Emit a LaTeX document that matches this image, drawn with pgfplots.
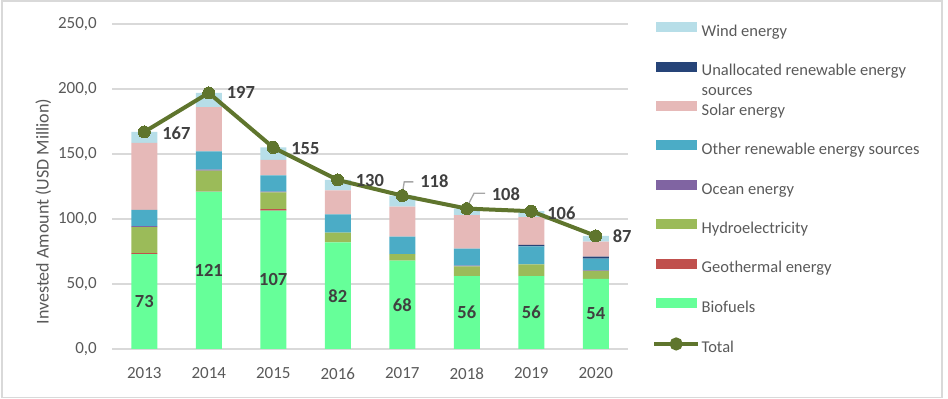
\documentclass[border=0pt]{standalone}
\usepackage{fontspec}
\setmainfont{Carlito}
\usepackage{pgfplots}
\pgfplotsset{compat=1.18}
\usepackage{pgfplotstable}

\definecolor{cwind}{HTML}{B7DEE8}
\definecolor{cunal}{HTML}{264478}
\definecolor{csolar}{HTML}{E6B9B8}
\definecolor{cother}{HTML}{4BACC6}
\definecolor{cocean}{HTML}{8064A2}
\definecolor{chydro}{HTML}{9BBB59}
\definecolor{cgeo}{HTML}{C0504D}
\definecolor{cbio}{HTML}{66FF99}
\definecolor{ctotal}{RGB}{95,117,45}
\definecolor{ctext}{HTML}{595959}
\definecolor{clabel}{HTML}{404040}
\definecolor{cgrid}{HTML}{D9D9D9}
\definecolor{cleader}{HTML}{A6A6A6}

\pgfplotstableread{
x bio geo hydro ocean other unal solar wind total blab dx dy
0 73 0.8 20 0.7 12.5 0 51.5 8.5 167 73 18 -1
1 121 0.3 16 0.7 14 0 34 11 197 121 18 0
2 106.5 1 13 0.5 12.5 0 12 9.5 155 107 18 -1.5
3 82 0 7.5 0 14 0 18.5 8 130 82 18 -0.7
4 68 0 5 0 13.5 0 23 8.5 118 68 18 14.3
5 56 0 7.5 0.7 13 0 25.8 5 108 56 25 14.3
6 56 0 9 0 14 1 21.5 4.5 106 56 16 -1.7
7 54 0 6 0.5 9 1.5 11.5 4.5 87 54 17 -0.7
}\data

\pgfplotsset{
  mypatch/.style={legend image code/.code={\fill[#1] (0bp,1bp) rectangle (40bp,10bp);}},
}

\begin{document}
\begin{tikzpicture}
\useasboundingbox (0,0) rectangle (948bp,399bp);
\draw[cgrid, line width=1.2bp] (2bp,1.3bp) rectangle (942bp,398bp);

\begin{axis}[
  at={(112bp,50bp)}, anchor=south west,
  scale only axis, width=516bp, height=325bp,
  xmin=-0.5, xmax=7.5, ymin=0, ymax=250,
  ybar stacked, bar width=26bp,
  xtick={0,...,7}, xticklabels={2013,2014,2015,2016,2017,2018,2019,2020},
  ytick={0,50,...,250},
  major tick length=0pt,
  axis x line*=bottom, axis y line*=left,
  x axis line style={cgrid, line width=1.3bp, -},
  y axis line style={draw=none},
  ymajorgrids, grid style={cgrid, line width=1.3bp},
  /pgf/number format/assume math mode=true,
  tick label style={font=\fontsize{17bp}{20bp}\selectfont, text=ctext, inner sep=0pt},
  yticklabel style={xshift=-15bp, /pgf/number format/.cd, fixed, fixed zerofill, precision=1, use comma},
  xticklabel style={yshift=-18.5bp},
  ylabel={Invested Amount (USD Million)},
  ylabel style={at={(axis description cs:-0.133,0.423)}, anchor=center, font=\fontsize{18bp}{21bp}\selectfont, text=ctext},
]
\addplot[fill=cbio, draw=none] table[x=x,y=bio]{\data};
\addplot[fill=cgeo, draw=none] table[x=x,y=geo]{\data};
\addplot[fill=chydro, draw=none] table[x=x,y=hydro]{\data};
\addplot[fill=cocean, draw=none] table[x=x,y=ocean]{\data};
\addplot[fill=cother, draw=none] table[x=x,y=other]{\data};
\addplot[fill=cunal, draw=none] table[x=x,y=unal]{\data};
\addplot[fill=csolar, draw=none] table[x=x,y=solar]{\data};
\addplot[fill=cwind, draw=none] table[x=x,y=wind]{\data};
\end{axis}

\begin{axis}[
  at={(112bp,50bp)}, anchor=south west,
  scale only axis, width=516bp, height=325bp,
  xmin=-0.5, xmax=7.5, ymin=0, ymax=250,
  hide axis, clip=false,
  legend cell align=left,
  legend style={at={(axis description cs:1.0465,1.006)}, anchor=north west,
    draw=none, fill=none, inner sep=0pt,
    font=\fontsize{16.5bp}{20bp}\selectfont, text=ctext,
    row sep=22.2bp, column sep=1.5bp,
    nodes={inner sep=0pt, text height=11bp, text depth=3bp}},
]
\addlegendimage{mypatch=cwind}
\addlegendentry{Wind energy}
\addlegendimage{mypatch=cunal}
\addlegendentry{\smash{\begin{tabular}[t]{@{}l@{}}Unallocated renewable energy\\sources\end{tabular}}}
\addlegendimage{mypatch=csolar}
\addlegendentry{Solar energy}
\addlegendimage{mypatch=cother}
\addlegendentry{Other renewable energy sources}
\addlegendimage{mypatch=cocean}
\addlegendentry{Ocean energy}
\addlegendimage{mypatch=chydro}
\addlegendentry{Hydroelectricity}
\addlegendimage{mypatch=cgeo}
\addlegendentry{Geothermal energy}
\addlegendimage{mypatch=cbio}
\addlegendentry{Biofuels}

\draw[cleader, line width=1.3bp] (axis cs:4,118) ++(0.7bp,6bp) -- ++(1.3bp,7.7bp) -- ++(9bp,0pt);
\draw[cleader, line width=1.3bp] (axis cs:5,108) ++(1.6bp,4.3bp) -- ++(5.7bp,11bp) -- ++(11bp,0pt);

\addplot[draw=none, forget plot, point meta=explicit symbolic, nodes near coords,
  nodes near coords style={anchor=center, inner sep=0pt, font=\bfseries\fontsize{18.5bp}{22bp}\selectfont, text=clabel}]
  table[x=x, y expr=\thisrow{bio}/2, meta=blab]{\data};

\addplot[ctotal, line width=4bp, mark=*, mark size=6bp,
  mark options={solid, fill=ctotal, draw=ctotal, line width=0pt},
  legend image code/.code={\draw[ctotal, line width=4bp] (-2bp,4.5bp) -- (42bp,4.5bp); \fill[ctotal] (20bp,4.5bp) circle (4.5bp);},
  point meta=explicit symbolic, nodes near coords,
  visualization depends on={\thisrow{dx}\as\dx},
  visualization depends on={\thisrow{dy}\as\dy},
  nodes near coords style={anchor=west, inner sep=0pt, xshift=\dx bp, yshift=\dy bp,
    font=\bfseries\fontsize{18.5bp}{22bp}\selectfont, text=clabel}]
  table[x=x, y=total, meta=total]{\data};
\addlegendentry{Total}
\end{axis}
\end{tikzpicture}
\end{document}
